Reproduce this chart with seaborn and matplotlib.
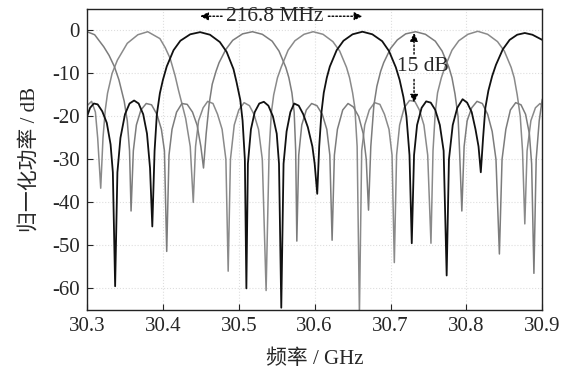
import pandas as pd
import seaborn as sns
import matplotlib.pyplot as plt

# values (GHz, dB)
black_f = [30.300, 30.304, 30.309, 30.314, 30.320, 30.326, 30.331, 30.334, 30.337, 30.340,
           30.344, 30.350, 30.356, 30.362, 30.368, 30.374, 30.379, 30.383, 30.386, 30.389,
           30.392, 30.396, 30.400, 30.405, 30.414, 30.423, 30.436, 30.449, 30.462, 30.475,
           30.484, 30.493, 30.497, 30.502, 30.505, 30.508, 30.510, 30.512, 30.516, 30.521,
           30.527, 30.533, 30.539, 30.545, 30.550, 30.553, 30.556, 30.559, 30.563, 30.568,
           30.573, 30.579, 30.585, 30.591, 30.597, 30.600, 30.6034, 30.606, 30.609, 30.612,
           30.616, 30.620, 30.629, 30.638, 30.650, 30.663, 30.676, 30.689, 30.698, 30.707,
           30.712, 30.717, 30.721, 30.725, 30.728, 30.731, 30.735, 30.741, 30.747, 30.753,
           30.759, 30.765, 30.770, 30.774, 30.777, 30.782, 30.788, 30.795, 30.801, 30.807,
           30.812, 30.816, 30.819, 30.822, 30.825, 30.829, 30.834, 30.839, 30.848, 30.857,
           30.867, 30.877, 30.887, 30.900]
black_db = [-20.0, -18.0, -17.0, -17.2, -18.8, -21.5, -26.5, -33, -59.5, -33,
            -25, -19.5, -17, -16.3, -17, -19.5, -24, -32, -45.6, -28,
            -19.5, -14.6, -11.5, -8.4, -4.6, -2.4, -0.9, -0.4, -1.0, -2.7,
            -5.0, -9.0, -12, -16.2, -21, -30, -60, -31, -23, -19,
            -17, -16.6, -17.5, -20, -24, -31, -64.5, -31, -23.5, -19,
            -17, -17.5, -19.5, -22.5, -27, -31, -38, -27, -19, -14.5,
            -11, -8.4, -4.6, -2.4, -0.9, -0.3, -0.9, -2.5, -4.8, -8.6,
            -11.5, -15.5, -20, -29, -49.5, -29, -22, -18, -16.5, -16.8,
            -18.5, -22, -28, -57, -30, -22, -18, -16, -16.8, -19,
            -23, -27, -33, -25, -18, -14, -10.6, -8, -4.4, -2.2,
            -1.0, -0.6, -1.0, -2.2]

grayA_f = [30.300, 30.310, 30.322, 30.329, 30.336, 30.342, 30.349, 30.353, 30.356, 30.358,
           30.361, 30.365, 30.371, 30.378, 30.385, 30.392, 30.398, 30.402, 30.405, 30.408,
           30.412, 30.418, 30.425, 30.432, 30.439, 30.445, 30.450, 30.4535, 30.457, 30.461,
           30.465, 30.470, 30.474, 30.483, 30.492, 30.505, 30.518, 30.531, 30.544, 30.553,
           30.562, 30.566, 30.570, 30.573, 30.575, 30.5765, 30.579, 30.583, 30.589, 30.596,
           30.603, 30.610, 30.616, 30.620, 30.623, 30.626, 30.630, 30.637, 30.644, 30.651,
           30.658, 30.664, 30.668, 30.671, 30.674, 30.678, 30.682, 30.687, 30.691, 30.700,
           30.709, 30.720, 30.733, 30.746, 30.759, 30.768, 30.777, 30.781, 30.785, 30.789,
           30.791, 30.794, 30.797, 30.801, 30.807, 30.814, 30.821, 30.828, 30.834, 30.839,
           30.8435, 30.847, 30.852, 30.858, 30.865, 30.872, 30.878, 30.883, 30.886, 30.889,
           30.892, 30.896, 30.900]
grayA_db = [-0.3, -1.0, -3.8, -5.8, -8.4, -11.5, -16.5, -21, -28, -42,
            -28, -22, -18.5, -17, -17.3, -19.5, -23, -28, -51.4, -29,
            -23, -19, -17, -17.2, -19, -22, -27, -32, -24, -17,
            -12.5, -9.5, -7.5, -4.4, -2.3, -0.8, -0.3, -0.9, -2.5, -4.8,
            -8.6, -11, -14.5, -19, -28, -49, -29, -22, -18.5, -17,
            -17.5, -19.5, -23, -29, -48.8, -29, -23, -18.5, -17, -17.8,
            -20, -24, -30, -41.8, -27, -17.5, -13, -9.5, -7.5, -4.2,
            -2.2, -0.8, -0.3, -0.9, -2.5, -4.8, -8.6, -11, -14.8, -20,
            -28, -42, -27, -21, -18, -16.5, -17, -19.5, -23.5, -30,
            -52, -30, -23, -18.5, -16.8, -17.3, -19.5, -24, -31, -56.5,
            -30, -21, -16]

grayB_f = [30.300, 30.306, 30.311, 30.314, 30.318, 30.321, 30.324, 30.327, 30.333, 30.340,
           30.353, 30.367, 30.380, 30.396, 30.403, 30.4095, 30.416, 30.4205, 30.425, 30.430,
           30.436, 30.440, 30.443, 30.447, 30.453, 30.459, 30.466, 30.472, 30.478, 30.483,
           30.486, 30.489, 30.494, 30.500, 30.507, 30.514, 30.520, 30.526, 30.531, 30.536,
           30.540, 30.543, 30.546, 30.551, 30.556, 30.565, 30.574, 30.586, 30.598, 30.611,
           30.624, 30.633, 30.642, 30.646, 30.650, 30.653, 30.656, 30.659, 30.662, 30.666,
           30.672, 30.679, 30.686, 30.692, 30.698, 30.702, 30.705, 30.708, 30.712, 30.718,
           30.725, 30.732, 30.738, 30.744, 30.749, 30.7533, 30.756, 30.759, 30.762, 30.767,
           30.772, 30.781, 30.790, 30.802, 30.815, 30.828, 30.841, 30.850, 30.859, 30.863,
           30.867, 30.871, 30.874, 30.877, 30.880, 30.885, 30.891, 30.897, 30.900]
grayB_db = [-17.5, -16.5, -19, -25, -36.7, -25, -18.5, -14.6, -10, -6.9,
            -3.0, -1.0, -0.3, -1.9, -4, -6.5, -10.5, -13.9, -17, -20.5,
            -27, -40, -27, -21, -18, -16.5, -17, -19.5, -23, -30,
            -56, -30, -22, -18.5, -16.8, -17.5, -19.5, -23, -30, -60.5,
            -28, -19, -15, -11, -8.5, -4.6, -2.4, -0.9, -0.3, -0.9,
            -2.6, -4.8, -8.6, -11, -14.5, -18, -27, -66, -28, -22,
            -18.5, -16.8, -17.2, -19.5, -23, -29, -54, -29, -22, -18,
            -16.3, -16.5, -18.5, -22, -29, -49.5, -28, -19, -14.5, -11,
            -8.4, -4.6, -2.4, -0.9, -0.2, -0.9, -2.6, -4.8, -8.6, -11,
            -15, -20, -28, -45, -28, -21, -18, -17, -17.5]

x_ticks = [30.3, 30.4, 30.5, 30.6, 30.7, 30.8, 30.9]
y_ticks = [0, -10, -20, -30, -40, -50, -60]

sns.set_style('ticks')
plt.rcParams['font.family'] = ['Liberation Serif', 'Noto Sans CJK SC']
plt.rcParams['font.size'] = 15

fig = plt.figure(figsize=(5.69, 3.72), dpi=100)
ax = fig.add_axes([0.153, 0.167, 0.800, 0.809])

series = [(grayB_f, grayB_db, '#8a8a8a', 1.1), (grayA_f, grayA_db, '#7c7c7c', 1.1),
          (black_f, black_db, '#111111', 1.3)]
for f, db, c, w in series:
    d = pd.DataFrame({'f': f, 'db': db})
    sns.lineplot(data=d, x='f', y='db', ax=ax, color=c, lw=w,
                 estimator=None, sort=False)

ax.set_xlim(30.3, 30.9)
ax.set_ylim(-65, 5)
ax.set_xticks(x_ticks)
ax.set_yticks(y_ticks)
ax.set_xticklabels([f'{t:.1f}' for t in x_ticks])
ax.set_yticklabels([f'{t}' for t in y_ticks])
ax.tick_params(direction='in', length=4, labelsize=15, width=0.8, pad=5)
ax.grid(True, ls=':', color='#dedede', lw=0.8)
for s in ax.spines.values():
    s.set_linewidth(1.0)
    s.set_color('#222222')

ax.set_xlabel('频率 / GHz', fontsize=15, labelpad=10)
ax.set_ylabel('归一化功率 / dB', fontsize=15, labelpad=9)

# 216.8 MHz spacing arrow
ap = dict(arrowstyle='-|>', ls=(0, (1.2, 1.5)), lw=1, color='k',
          shrinkA=0, shrinkB=0, mutation_scale=12)
ax.annotate('', xy=(30.449, 3.3), xytext=(30.478, 3.3), arrowprops=ap)
ax.annotate('', xy=(30.663, 3.3), xytext=(30.618, 3.3), arrowprops=ap)
ax.text(30.547, 3.3, '216.8 MHz', ha='center', va='center', fontsize=15.5)

# 15 dB arrow
ax.annotate('', xy=(30.731, -0.6), xytext=(30.731, -5.5), arrowprops=ap)
ax.annotate('', xy=(30.731, -16.8), xytext=(30.731, -11.4), arrowprops=ap)
ax.text(30.742, -8.4, '15 dB', ha='center', va='center', fontsize=15.5)

fig.savefig('out.png', dpi=100)
